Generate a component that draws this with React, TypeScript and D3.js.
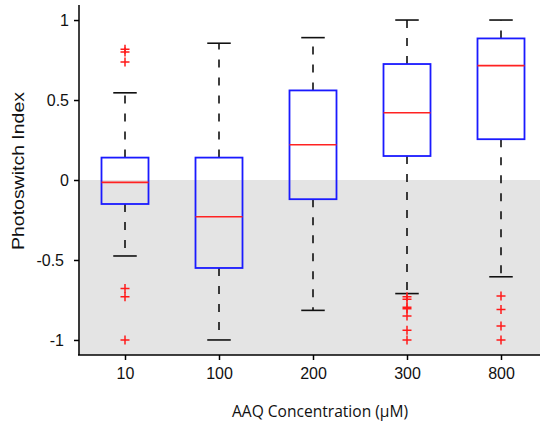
import React, { useEffect, useRef } from "react";
import * as d3 from "d3";

const categories = ["10", "100", "200", "300", "800"];
const whiskerHigh = [0.545, 0.855, 0.89, 1.0, 1.0];
const q3 = [0.14, 0.14, 0.56, 0.725, 0.885];
const median = [-0.015, -0.23, 0.22, 0.42, 0.715];
const q1 = [-0.15, -0.55, -0.12, 0.15, 0.255];
const whiskerLow = [-0.475, -1.0, -0.815, -0.71, -0.605];
const outliers = [
  [0.818, 0.8, 0.738, -0.678, -0.73, -1.0],
  [],
  [],
  [-0.73, -0.745, -0.795, -0.805, -0.85, -0.94, -1.0],
  [-0.725, -0.81, -0.912, -1.0],
];
const yTicks = [-1, -0.5, 0, 0.5, 1];
const yTickLabels = ["-1", "-0.5", "0", "0.5", "1"];

const width = 540;
const height = 424;

const App = () => {
  const ref = useRef<SVGGElement>(null);

  useEffect(() => {
    const g = d3.select(ref.current);
    g.selectAll("*").remove();

    const x = d3.scaleLinear().domain([0.5, 5.5]).range([78, 548]);
    const y = d3.scaleLinear().domain([-1.094, 1.094]).range([355, 5]);
    const boxW = x(1.25) - x(1);
    const capW = x(1.125) - x(1);

    // grey band below zero
    g.append("rect")
      .attr("x", x(0.5))
      .attr("y", y(0))
      .attr("width", x(5.5) - x(0.5))
      .attr("height", y(-1.094) - y(0))
      .attr("fill", "#e4e4e4");

    const boxes = g
      .selectAll("g.box")
      .data(categories)
      .join("g")
      .attr("class", "box");

    boxes.each(function (_, i) {
      const b = d3.select(this);
      const cx = x(i + 1);
      // whiskers
      b.append("line")
        .attr("x1", cx).attr("x2", cx)
        .attr("y1", y(q3[i])).attr("y2", y(whiskerHigh[i]))
        .attr("stroke", "#000").attr("stroke-width", 1.5)
        .attr("stroke-dasharray", "8,10");
      b.append("line")
        .attr("x1", cx).attr("x2", cx)
        .attr("y1", y(q1[i])).attr("y2", y(whiskerLow[i]))
        .attr("stroke", "#000").attr("stroke-width", 1.5)
        .attr("stroke-dasharray", "8,10");
      [whiskerHigh[i], whiskerLow[i]].forEach((v) => {
        b.append("line")
          .attr("x1", cx - capW).attr("x2", cx + capW)
          .attr("y1", y(v)).attr("y2", y(v))
          .attr("stroke", "#111").attr("stroke-width", 1.6);
      });
      // box
      b.append("rect")
        .attr("x", cx - boxW)
        .attr("y", y(q3[i]))
        .attr("width", boxW * 2)
        .attr("height", y(q1[i]) - y(q3[i]))
        .attr("fill", "none")
        .attr("stroke", "#1a1aff")
        .attr("stroke-width", 1.8);
      b.append("line")
        .attr("x1", cx - boxW).attr("x2", cx + boxW)
        .attr("y1", y(median[i])).attr("y2", y(median[i]))
        .attr("stroke", "#ff2222").attr("stroke-width", 1.6);
      // outliers
      b.selectAll("path.out")
        .data(outliers[i])
        .join("path")
        .attr("class", "out")
        .attr("transform", (d) => `translate(${cx},${y(d)})`)
        .attr("d", "M-4.5,0H4.5M0,-4.5V4.5")
        .attr("stroke", "#ff1a1a")
        .attr("stroke-width", 1.5)
        .attr("fill", "none");
    });

    // y axis
    const yAxis = d3.axisLeft(y)
      .tickValues(yTicks)
      .tickSize(5)
      .tickPadding(5)
      .tickFormat((_, i) => yTickLabels[i]);
    const yAxisG = g.append("g")
      .attr("transform", `translate(${x(0.5) + 1},0)`)
      .call(yAxis);
    yAxisG.select(".domain")
      .attr("d", `M0,${y(1.094)}V${y(-1.094)}`)
      .attr("stroke-width", 1.5);
    yAxisG.selectAll(".tick line").attr("stroke-width", 1.5);
    yAxisG.selectAll(".tick text")
      .attr("font-family", "Liberation Sans, Arial, sans-serif")
      .attr("font-size", 16)
      .attr("fill", "#111")
      .attr("dx", (_, i) => (yTicks[i] < 0 ? -5 : 0));

    // x axis
    const xAxis = d3.axisBottom(x)
      .tickValues(categories.map((_, i) => i + 1))
      .tickSize(5)
      .tickPadding(8)
      .tickFormat((_, i) => categories[i]);
    const xAxisG = g.append("g")
      .attr("transform", `translate(0,${y(-1.094)})`)
      .call(xAxis);
    xAxisG.select(".domain")
      .attr("d", `M${x(0.5)},0H${x(5.5)}`)
      .attr("stroke-width", 1.5);
    xAxisG.selectAll(".tick line").attr("stroke-width", 1.5);
    xAxisG.selectAll(".tick text")
      .attr("font-family", "Liberation Sans, Arial, sans-serif")
      .attr("font-size", 16)
      .attr("fill", "#111");

    // labels
    g.append("text")
      .attr("transform", `translate(24,171) rotate(-90)`)
      .attr("text-anchor", "middle")
      .attr("font-family", "Liberation Sans, Arial, sans-serif")
      .attr("font-size", 17)
      .attr("textLength", 158)
      .attr("lengthAdjust", "spacingAndGlyphs")
      .attr("fill", "#111")
      .text("Photoswitch Index");

    g.append("text")
      .attr("x", 320)
      .attr("y", 417)
      .attr("text-anchor", "middle")
      .attr("font-family", "Open Sans, sans-serif")
      .attr("font-size", 16)
      .attr("textLength", 176)
      .attr("lengthAdjust", "spacingAndGlyphs")
      .attr("fill", "#111")
      .text("AAQ Concentration (μM)");
  }, []);

  return (
    <div style={{ position: "absolute", left: 0, top: 0 }}>
      <svg width={width} height={height} style={{ display: "block", background: "#fff" }}>
        <g ref={ref} />
      </svg>
    </div>
  );
};

export default App;
